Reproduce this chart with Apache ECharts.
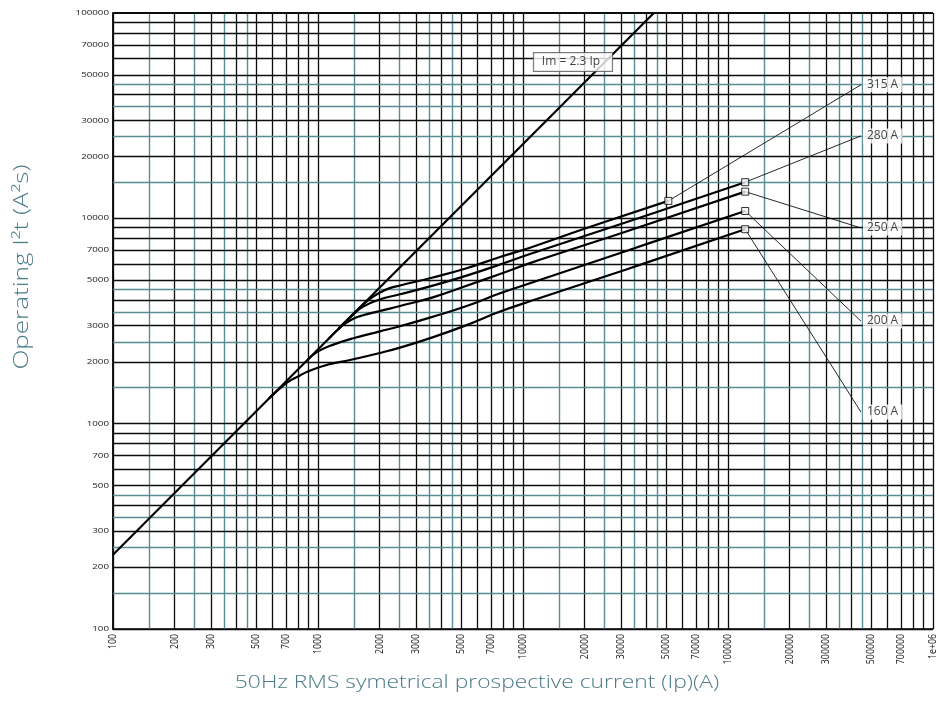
<!DOCTYPE html>
<html>
<head>
<meta charset="utf-8">
<script src="https://cdn.jsdelivr.net/npm/echarts@6/dist/echarts.min.js"></script>
<style>
html,body{margin:0;padding:0;background:#ffffff;}
#chart{width:936px;height:723px;}
</style>
</head>
<body>
<div id="chart"></div>
<script>
// ---------- data ----------
const xTicks = [100,200,300,500,700,1000,2000,3000,5000,7000,10000,20000,30000,50000,70000,100000,200000,300000,500000,700000,1000000];
const xTickLabels = ['100','200','300','500','700','1000','2000','3000','5000','7000','10000','20000','30000','50000','70000','100000','200000','300000','500000','700000','1e+06'];
const yTicks = [100,200,300,500,700,1000,2000,3000,5000,7000,10000,20000,30000,50000,70000,100000];
const yTickLabels = ['100','200','300','500','700','1000','2000','3000','5000','7000','10000','20000','30000','50000','70000','100000'];

// grid line multipliers per decade
const blackGridDigits = [1,2,3,4,5,6,7,8,9];
const tealGridDigits = [1.5,2.5,3.5,4.5];

// Im = 2.3 Ip reference line
const mainI = [100, 43480];
const mainV = [230, 100000];

// fuse curves: prospective current (A) and operating I2t (A2s)
const c315I = [1259, 1585, 1778, 1995, 2239, 2512, 3631, 5309, 7727, 10810, 19950, 51170];
const c315V = [2897, 3648, 4027, 4345, 4571, 4710, 5152, 5715, 6486, 7194, 8892, 12160];
const c280I = [1259, 1479, 1660, 1995, 2512, 3631, 5309, 7727, 10810, 31620, 121300];
const c280V = [2897, 3388, 3715, 4027, 4266, 4699, 5260, 5957, 6699, 9550, 15000];
const c250I = [1122, 1318, 1479, 1660, 1995, 2512, 3631, 5309, 7727, 10810, 31620, 121300];
const c250V = [2582, 3006, 3236, 3373, 3532, 3741, 4121, 4699, 5358, 6053, 8610, 13490];
const c200I = [891, 1000, 1189, 1486, 2004, 2512, 3648, 5309, 7727, 10810, 31620, 121300];
const c200V = [2051, 2249, 2427, 2606, 2815, 2980, 3320, 3741, 4315, 4831, 6918, 10860];
const c160I = [575, 676, 741, 817, 898, 1122, 1432, 2004, 2512, 3648, 5309, 7727, 10810, 31620, 121300];
const c160V = [1324, 1531, 1633, 1718, 1799, 1941, 2042, 2210, 2345, 2640, 3020, 3516, 3945, 5623, 8851];

const curveNames = ['315 A', '280 A', '250 A', '200 A', '160 A'];
// callout anchor values (data space) for each curve label
const calloutI = 445000;
const calloutV = [44700, 25200, 8980, 3160, 1140];

const refLabel = 'Im = 2.3 Ip';
const refLabelAt = [17530, 57790];

// ---------- build ----------
const X_MIN = 100, X_MAX = 1000000, Y_MIN = 100, Y_MAX = 100000;
const BLACK = '#0d0d0d';
const TEAL = '#5a8c95';
const TITLE = '#4a7b88';

function gridValues(min, max, digits) {
  const out = [];
  for (let e = Math.round(Math.log10(min)); e < Math.round(Math.log10(max)); e++) {
    digits.forEach(d => {
      const v = +(d * Math.pow(10, e)).toPrecision(6);
      if (v >= min && v <= max) out.push(v);
    });
  }
  if (digits.includes(1)) out.push(max);
  return out;
}

function markLineData(axisKey, min, max) {
  const items = [];
  gridValues(min, max, tealGridDigits).forEach(v => items.push({[axisKey]: v, lineStyle: {color: TEAL, width: 1.4, type: 'solid'}}));
  gridValues(min, max, blackGridDigits).forEach(v => items.push({[axisKey]: v, lineStyle: {color: BLACK, width: (v === max && axisKey === 'yAxis') ? 2.2 : 1.3, type: 'solid'}}));
  return items;
}

const pairs = (a, b) => a.map((v, i) => [v, b[i]]);
const curves = [[c315I, c315V], [c280I, c280V], [c250I, c250V], [c200I, c200V], [c160I, c160V]];

const series = [];

// x tick labels + vertical grid lines
series.push({
  type: 'custom', coordinateSystem: 'cartesian2d', silent: true, clip: false, z: 1,
  data: xTicks.map(v => [v, Y_MIN]),
  renderItem: (params, api) => {
    const p = api.coord([api.value(0), api.value(1)]);
    return {type: 'text', x: p[0], y: p[1] + 5, rotation: Math.PI / 2, scaleY: 1.15,
      style: {text: xTickLabels[params.dataIndex], align: 'right', verticalAlign: 'middle',
        fontSize: 8.8, fontFamily: 'Open Sans', fill: '#1a1a1a'}};
  },
  markLine: {silent: true, animation: false, symbol: ['none', 'none'], label: {show: false},
    emphasis: {disabled: true}, data: markLineData('xAxis', X_MIN, X_MAX)}
});
// y tick labels + horizontal grid lines
series.push({
  type: 'custom', coordinateSystem: 'cartesian2d', silent: true, clip: false, z: 1,
  data: yTicks.map(v => [X_MIN, v]),
  renderItem: (params, api) => {
    const p = api.coord([api.value(0), api.value(1)]);
    return {type: 'text', x: p[0] - 4, y: p[1], scaleX: 1.3,
      style: {text: yTickLabels[params.dataIndex], align: 'right', verticalAlign: 'middle',
        fontSize: 7.5, fontFamily: 'Open Sans', fill: '#1a1a1a'}};
  },
  markLine: {silent: true, animation: false, symbol: ['none', 'none'], label: {show: false},
    emphasis: {disabled: true}, data: markLineData('yAxis', Y_MIN, Y_MAX)}
});

// reference line
series.push({
  type: 'line', name: refLabel, data: pairs(mainI, mainV), z: 5, silent: true,
  symbol: 'none', lineStyle: {color: '#000', width: 2.2}
});

// curves
curves.forEach((c, i) => {
  series.push({
    type: 'line', name: curveNames[i], data: pairs(c[0], c[1]), z: 5, silent: true,
    symbol: 'none', smooth: 0.45, lineStyle: {color: '#000', width: 2.2}
  });
  const last = c[0].length - 1;
  // callout leader line
  series.push({
    type: 'line', data: [[c[0][last], c[1][last]], [calloutI, calloutV[i]]], z: 6, silent: true,
    symbol: 'none', lineStyle: {color: '#111', width: 0.9}
  });
});

// end squares
series.push({
  type: 'scatter', z: 8, silent: true, symbol: 'rect', symbolSize: 7,
  data: curves.map(c => [c[0][c[0].length - 1], c[1][c[1].length - 1]]),
  itemStyle: {color: '#f4f4f4', borderColor: '#000', borderWidth: 1}
});

// callout labels
series.push({
  type: 'scatter', z: 9, silent: true, symbolSize: 0,
  data: calloutV.map(v => [calloutI, v]),
  label: {show: true, position: 'right', distance: 2, formatter: p => curveNames[p.dataIndex],
    color: '#111', fontSize: 12, fontFamily: 'Open Sans', backgroundColor: '#ffffff', padding: [2, 4, 1, 4]}
});

// reference line label
series.push({
  type: 'scatter', z: 9, silent: true, symbolSize: 0,
  data: [refLabelAt],
  label: {show: true, position: 'inside', formatter: refLabel,
    color: '#111', fontSize: 12, fontFamily: 'Open Sans', backgroundColor: '#ffffff',
    borderColor: '#555', borderWidth: 1, padding: [3, 12, 3, 8]}
});

const option = {
  animation: false,
  backgroundColor: '#ffffff',
  grid: {left: 113, right: 3, top: 13, bottom: 94, containLabel: false},
  xAxis: {type: 'log', logBase: 10, min: X_MIN, max: X_MAX,
    axisLine: {show: true, lineStyle: {color: '#000', width: 1.5}},
    axisTick: {show: false}, axisLabel: {show: false}, splitLine: {show: false}},
  yAxis: {type: 'log', logBase: 10, min: Y_MIN, max: Y_MAX,
    axisLine: {show: true, lineStyle: {color: '#000', width: 1.8}},
    axisTick: {show: false}, axisLabel: {show: false}, splitLine: {show: false}},
  graphic: [
    {type: 'text', x: 22, y: 267, rotation: Math.PI / 2, scaleX: 1.3, silent: true,
      style: {text: 'Operating I²t (A²s)', align: 'center', verticalAlign: 'middle',
        fontSize: 20, fontFamily: 'Open Sans', fontWeight: 300, fill: TITLE}},
    {type: 'text', x: 477, y: 683, scaleX: 1.2, silent: true,
      style: {text: '50Hz RMS symetrical prospective current (Ip)(A)', align: 'center', verticalAlign: 'middle',
        fontSize: 19, fontFamily: 'Open Sans', fontWeight: 300, fill: TITLE}}
  ],
  series: series
};

const chart = echarts.init(document.getElementById('chart'), null, {renderer: 'canvas'});
chart.setOption(option);
</script>
</body>
</html>
